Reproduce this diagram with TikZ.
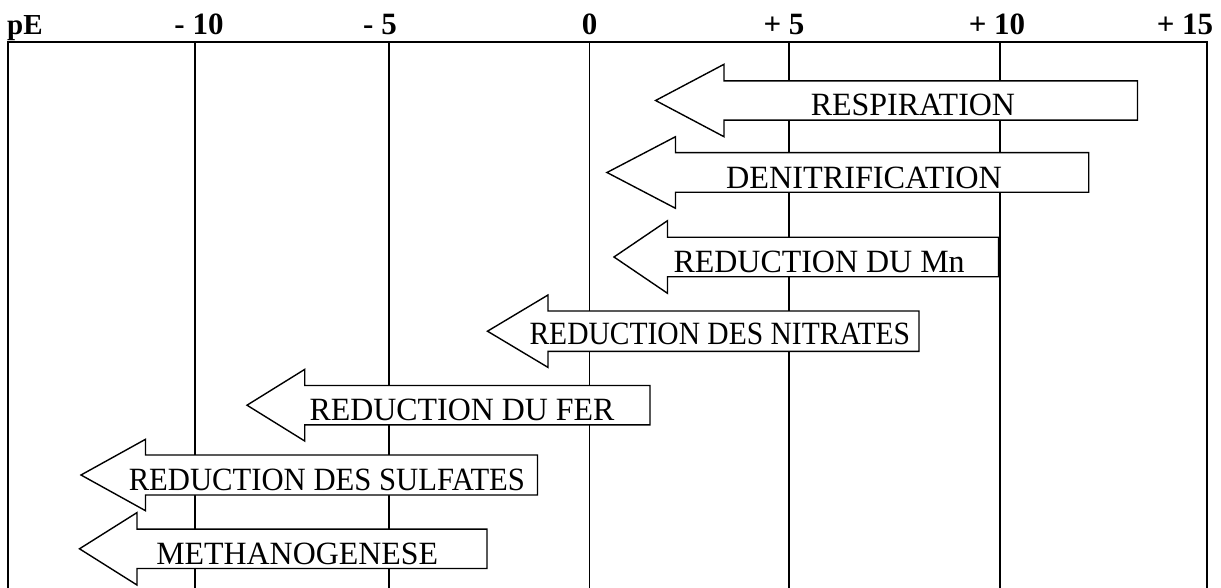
\documentclass[tikz,border=0pt]{standalone}
\usepackage{fontspec}
\setmainfont{Liberation Serif}
% label set to a given width and cap height
\newcommand\fitlabel[2]{\resizebox{#1}{21.5pt}{#2}}
\begin{document}
\begin{tikzpicture}[x=1pt,y=-1pt,
  gridline/.style={line width=1.3pt},
  axisline/.style={line width=2pt},
  procarrow/.style={draw,fill=white,line width=1.4pt,line join=miter},
  scalelabel/.style={anchor=base,inner sep=0pt,font=\bfseries\fontsize{31}{35}\selectfont},
  proclabel/.style={anchor=base,inner sep=0pt,font=\fontsize{32}{36}\selectfont}]
\useasboundingbox (0,0) rectangle (1221,588);

% frame and grid lines of the pE scale
\draw[gridline] (8,42) -- (8,588);
\draw[gridline] (1207,42) -- (1207,588);
\foreach \gx in {195,389,589.5,789,1000}
  \draw[gridline] (\gx,42) -- (\gx,588);
\draw[axisline] (7,42) -- (1208,42);

% scale labels
\node[anchor=base west,inner sep=0pt,font=\bfseries\fontsize{29}{33}\selectfont] (pE) at (7,35) {pE};
\node[scalelabel] (m10) at (199,35) {- 10};
\node[scalelabel] (m5)  at (380,35) {- 5};
\node[scalelabel] (z0)  at (589.5,35) {0};
\node[scalelabel] (p5)  at (784,35) {+ 5};
\node[scalelabel] (p10) at (997,35) {+ 10};
\node[scalelabel] (p15) at (1185,35) {+ 15};

% block arrow: tip x, tip y, head base x, head half-height, shaft half-height, tail x
\newcommand\blockarrow[6]{%
  \draw[procarrow] (#1,#2) -- (#3,#2-#4) -- (#3,#2-#5) -- (#6,#2-#5)
    -- (#6,#2+#5) -- (#3,#2+#5) -- (#3,#2+#4) -- cycle;}

\blockarrow{655.6}{100.5}{724}{36.2}{19.6}{1137.5}
\node[proclabel] (resp) at (912.9,115.8) {\fitlabel{204.3pt}{RESPIRATION}};

\blockarrow{607}{172.5}{675.5}{35.8}{19.8}{1088.7}
\node[proclabel] (denit) at (864,188.3) {\fitlabel{276pt}{DENITRIFICATION}};

\blockarrow{614}{257}{667.5}{36.3}{19.7}{998.5}
\node[proclabel] (mn) at (819.1,272.3) {\fitlabel{291.2pt}{REDUCTION DU Mn}};

\blockarrow{487.5}{331.2}{548}{36.2}{20.2}{919}
\node[proclabel] (nitr) at (719.8,344.3) {\fitlabel{380.5pt}{REDUCTION DES NITRATES}};

\blockarrow{247}{405.2}{304.7}{35.8}{19.7}{650}
\node[proclabel] (fer) at (462,420.5) {\fitlabel{304.8pt}{REDUCTION DU FER}};

\blockarrow{81}{475}{145.5}{35.7}{20}{537.5}
\node[proclabel] (sulf) at (326.9,490.5) {\fitlabel{396.3pt}{REDUCTION DES SULFATES}};

\blockarrow{79.5}{548.8}{137}{36.2}{19.7}{487}
\node[proclabel] (meth) at (297.2,564) {\fitlabel{281.6pt}{METHANOGENESE}};
\end{tikzpicture}
\end{document}
